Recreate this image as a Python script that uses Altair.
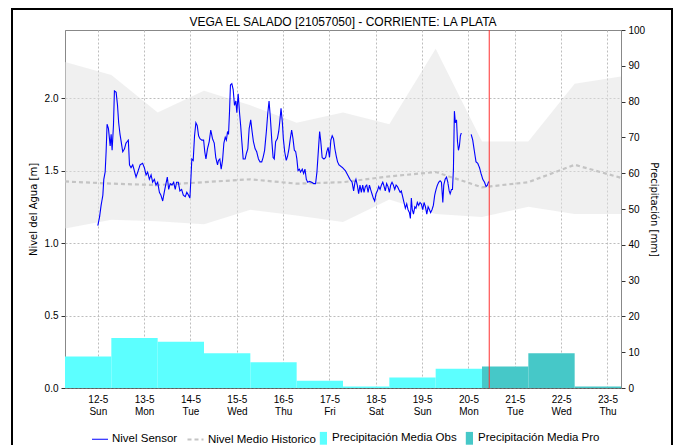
import altair as alt
import pandas as pd

FONT = "Liberation Sans"
TITLE = "VEGA EL SALADO [21057050] - CORRIENTE: LA PLATA"

# Sensor readings: (hours after 12-5 00:00, level in m); the record has a gap on 20-5
sensor_part1 = [
    (0.0, 1.12), (0.9, 1.18), (1.7, 1.26), (2.6, 1.33), (3.1, 1.44), (3.8, 1.49), (4.3, 1.63),
    (4.8, 1.82), (5.5, 1.79), (6.4, 1.67), (6.9, 1.75), (7.4, 1.64), (8.1, 1.81), (8.6, 2.05),
    (9.5, 2.04), (10.2, 1.95), (10.8, 1.83), (11.5, 1.75), (12.1, 1.70), (12.9, 1.63), (13.8, 1.65),
    (14.6, 1.69), (15.8, 1.71), (16.4, 1.54), (17.2, 1.52), (18.1, 1.54), (18.9, 1.50), (19.8, 1.455),
    (20.7, 1.49), (21.9, 1.54), (23.2, 1.55),
    (24.1, 1.52), (25.0, 1.47), (25.8, 1.49), (26.7, 1.44), (27.6, 1.47), (28.4, 1.42), (29.3, 1.44),
    (30.1, 1.40), (31.0, 1.42), (31.9, 1.35), (32.7, 1.33), (33.6, 1.29), (34.4, 1.35), (35.3, 1.41),
    (36.0, 1.455), (36.7, 1.37), (37.5, 1.41), (38.4, 1.40), (39.3, 1.42), (40.1, 1.37), (40.8, 1.42),
    (41.7, 1.42), (42.5, 1.36), (43.4, 1.37), (44.3, 1.33), (45.3, 1.32), (46.1, 1.35), (47.0, 1.33),
    (47.7, 1.31),
    (48.2, 1.44), (48.7, 1.58), (49.4, 1.57), (50.1, 1.74), (50.8, 1.83), (51.5, 1.81), (52.2, 1.74),
    (52.9, 1.72), (53.9, 1.71), (54.8, 1.71), (55.4, 1.63), (56.0, 1.58), (56.8, 1.65), (57.7, 1.70),
    (58.5, 1.78), (59.4, 1.72), (60.3, 1.69), (61.1, 1.59), (62.0, 1.54), (62.5, 1.57), (63.2, 1.58),
    (63.9, 1.51), (64.6, 1.57), (65.3, 1.69), (66.0, 1.73), (66.6, 1.71), (67.2, 1.77), (67.7, 1.75),
    (68.2, 1.90), (68.7, 2.09), (69.4, 2.10), (70.1, 2.06), (70.8, 1.95), (71.5, 1.98),
    (72.0, 1.90), (72.7, 2.03), (73.4, 1.90), (74.0, 1.81), (74.6, 1.70), (75.3, 1.58), (76.3, 1.58),
    (77.0, 1.62), (77.7, 1.65), (78.4, 1.79), (79.2, 1.85), (79.9, 1.77), (80.6, 1.70), (81.5, 1.65),
    (82.3, 1.63), (83.2, 1.58), (84.0, 1.56), (84.9, 1.56), (85.6, 1.59), (86.4, 1.64), (87.3, 1.77),
    (88.0, 1.89), (88.7, 1.98), (89.4, 1.86), (90.1, 1.71), (90.8, 1.59), (91.4, 1.58), (92.1, 1.70),
    (93.0, 1.72), (93.7, 1.77), (94.2, 1.83), (94.9, 1.93), (95.6, 1.83),
    (96.1, 1.72), (96.8, 1.63), (97.6, 1.57), (98.3, 1.60), (99.0, 1.65), (99.7, 1.72), (100.4, 1.78),
    (101.1, 1.72), (101.8, 1.64), (102.5, 1.63), (103.1, 1.58), (103.7, 1.50), (104.4, 1.51),
    (105.0, 1.49), (105.9, 1.51), (106.6, 1.48), (107.3, 1.51), (108.0, 1.44), (108.7, 1.42),
    (109.7, 1.425), (110.7, 1.42), (111.8, 1.41), (112.8, 1.41), (113.5, 1.49), (114.2, 1.63),
    (114.9, 1.77), (115.5, 1.70), (116.2, 1.59), (117.1, 1.58), (118.0, 1.59), (118.6, 1.63),
    (119.3, 1.66),
    (120.0, 1.59), (120.7, 1.71), (121.4, 1.74), (122.1, 1.72), (122.8, 1.65), (123.5, 1.60),
    (124.2, 1.56), (124.9, 1.54), (126.8, 1.52), (128.2, 1.50), (129.4, 1.47), (130.6, 1.44),
    (131.7, 1.42), (132.5, 1.36), (133.2, 1.42), (133.7, 1.44), (134.4, 1.40), (135.1, 1.34),
    (135.8, 1.40), (136.5, 1.35), (137.2, 1.40), (137.9, 1.35), (138.6, 1.39), (139.3, 1.40),
    (140.0, 1.35), (140.7, 1.40), (141.3, 1.37), (142.0, 1.34), (142.7, 1.31), (143.4, 1.29),
    (144.1, 1.34), (144.8, 1.36), (145.5, 1.39), (146.2, 1.37), (146.9, 1.40), (147.6, 1.42),
    (148.3, 1.39), (148.9, 1.36), (149.6, 1.41), (150.3, 1.39), (151.0, 1.35), (151.7, 1.40),
    (152.4, 1.42), (153.1, 1.40), (153.8, 1.37), (154.5, 1.40), (155.2, 1.39), (155.9, 1.37),
    (156.6, 1.35), (157.2, 1.36), (157.9, 1.32), (158.6, 1.28), (159.3, 1.24), (160.0, 1.27),
    (160.7, 1.23), (161.4, 1.21), (161.9, 1.17), (162.4, 1.31), (162.9, 1.23), (163.5, 1.20),
    (164.2, 1.25), (164.8, 1.24), (165.5, 1.28), (166.2, 1.26), (166.9, 1.28), (167.6, 1.27),
    (168.3, 1.23), (169.0, 1.28), (169.7, 1.25), (170.4, 1.20), (171.1, 1.25), (171.8, 1.23),
    (172.4, 1.21), (173.1, 1.23), (173.8, 1.26), (174.5, 1.33), (175.2, 1.37), (175.9, 1.40),
    (176.6, 1.42), (177.3, 1.43), (178.0, 1.42), (178.7, 1.28), (179.2, 1.40), (179.9, 1.44),
    (180.6, 1.455), (181.3, 1.42), (182.0, 1.36), (182.5, 1.34), (183.2, 1.37), (183.7, 1.37),
    (184.2, 1.51), (184.7, 1.91), (185.2, 1.83), (185.8, 1.85), (186.3, 1.70), (186.8, 1.64),
    (187.3, 1.67), (187.8, 1.74), (188.3, 1.76),
]
sensor_part2 = [
    (193.4, 1.75), (194.2, 1.71), (195.1, 1.63), (195.9, 1.56), (196.8, 1.55), (197.7, 1.52),
    (198.5, 1.48), (199.4, 1.44), (200.3, 1.42), (201.1, 1.39), (201.8, 1.40), (202.5, 1.425),
]

# Historic level statistics, one value per day at 07:00
hist_times = [f"2019-05-{d:02d}T07:00:00" for d in
              [11, 12, 13, 14, 15, 16, 17, 18, 19, 20, 21, 22, 23]]
hist_upper = [2.25, 2.16, 1.90, 2.05, 1.95, 1.83, 1.90, 1.82, 2.34, 1.70, 1.70, 2.10, 2.15]
hist_lower = [1.10, 1.16, 1.15, 1.13, 1.23, 1.19, 1.145, 1.30, 1.20, 1.18, 1.25, 1.20, 1.20]
hist_mean = [1.425, 1.41, 1.40, 1.42, 1.44, 1.41, 1.42, 1.46, 1.49, 1.385, 1.42, 1.54, 1.45]

# Daily precipitation (mm), 07:00 to 07:00
precip_start = [f"2019-05-{d:02d}T07:00:00" for d in [11, 12, 13, 14, 15, 16, 17, 18, 19, 20, 21, 22]]
precip_end = [f"2019-05-{d:02d}T07:00:00" for d in [12, 13, 14, 15, 16, 17, 18, 19, 20, 21, 22, 23]]
precip_mm = [8.8, 14.0, 12.9, 9.7, 7.2, 2.0, 0.4, 2.9, 5.4, 6.0, 9.7, 0.4]
precip_kind = ["Precipitación Media Obs"] * 9 + ["Precipitación Media Pro"] * 3

now_time = "2019-05-20T10:45:00"
tick_days = [12, 13, 14, 15, 16, 17, 18, 19, 20, 21, 22, 23]
level_ticks = [0.0, 0.5, 1.0, 1.5, 2.0]
precip_ticks = [0, 10, 20, 30, 40, 50, 60, 70, 80, 90, 100]

line_names = ["Nivel Sensor", "Nivel Medio Historico"]
bar_names = ["Precipitación Media Obs", "Precipitación Media Pro"]

# ---- tables
base = pd.Timestamp("2019-05-12 00:00")


def to_iso(hours):
    return [(base + pd.to_timedelta(h, unit="h")).strftime("%Y-%m-%dT%H:%M:%S") for h in hours]


rows = []
for grp, part in [("a", sensor_part1), ("b", sensor_part2)]:
    ts = to_iso([p[0] for p in part])
    for t, p in zip(ts, part):
        rows.append({"t": t, "v": p[1], "serie": "Nivel Sensor", "grp": grp})
for t, v in zip(hist_times, hist_mean):
    rows.append({"t": t, "v": v, "serie": "Nivel Medio Historico", "grp": "m"})
line_df = pd.DataFrame(rows)

band_df = pd.DataFrame({"t": hist_times, "hi": hist_upper, "lo": hist_lower})
bar_df = pd.DataFrame({"t0": precip_start, "t1": precip_end, "mm": precip_mm, "serie": precip_kind})
now_df = pd.DataFrame({"t": [now_time]})

# ---- scales & axes
x_scale = alt.Scale(domain=[alt.DateTime(year=2019, month=5, date=11, hours=7),
                            alt.DateTime(year=2019, month=5, date=23, hours=7)])
x_axis = alt.Axis(
    values=[alt.DateTime(year=2019, month=5, date=d) for d in tick_days],
    labelExpr="[timeFormat(datum.value, '%-d-%-m'), timeFormat(datum.value, '%a')]",
    title=None, grid=True, gridColor="#BDBDBD", gridDash=[2, 2], ticks=False,
    labelFont=FONT, labelFontSize=10, labelColor="black", labelLineHeight=12,
    labelPadding=6, labelAngle=0, domainColor="#333333", domainDash=[1, 1],
)
yl_scale = alt.Scale(domain=[0, 2.47], nice=False, zero=True)
yl_axis = alt.Axis(
    orient="left", values=level_ticks, format=".1f", title="Nivel del Agua [m]",
    grid=True, gridColor="#BDBDBD", gridDash=[2, 2], tickSize=4, tickColor="#333333",
    domainColor="#888888", labelFont=FONT, labelFontSize=10, labelColor="black",
    labelPadding=3, titleFont="DejaVu Sans", titleFontSize=10, titleFontWeight="normal",
    titleColor="black", titlePadding=6,
)
yr_scale = alt.Scale(domain=[0, 100], nice=False, zero=True)
yr_axis = alt.Axis(
    orient="right", values=precip_ticks, title="Precipitación [mm]", grid=False,
    tickSize=4, tickColor="#333333", domainColor="#888888", labelFont=FONT,
    labelFontSize=10, labelColor="black", labelPadding=3, titleFont="DejaVu Sans",
    titleFontSize=10, titleFontWeight="normal", titleColor="black", titlePadding=4,
)

legend_lines = alt.Legend(
    orient="none", legendX=26, legendY=400, direction="horizontal", title=None,
    symbolType="stroke", symbolSize=256, symbolStrokeWidth=1.5, labelFont=FONT,
    labelFontSize=11.5, labelColor="black", labelOffset=3, columnPadding=5,
)
legend_bars = alt.Legend(
    orient="none", legendX=246, legendY=400, direction="horizontal", title=None,
    symbolType="M0.1,-0.8H1V0.8H0.1Z", symbolSize=256, symbolStrokeWidth=0,
    labelFont=FONT, labelFontSize=11.5, labelColor="black", labelOffset=5, columnPadding=-4,
)

color_enc = alt.Color("serie:N", scale=alt.Scale(domain=line_names, range=["#0000FF", "#C4C4C4"]),
                      legend=legend_lines)
dash_enc = alt.StrokeDash("serie:N", scale=alt.Scale(domain=line_names, range=[[1, 0], [4, 3]]),
                          legend=legend_lines)
width_enc = alt.StrokeWidth("serie:N", scale=alt.Scale(domain=line_names, range=[1.1, 2.2]),
                            legend=None)

band = alt.Chart(band_df).mark_area(color="#E1E1E1", opacity=0.5).encode(
    x=alt.X("t:T", scale=x_scale, axis=x_axis),
    y=alt.Y("hi:Q", scale=yl_scale, axis=yl_axis),
    y2="lo:Q",
)
mean_line = alt.Chart(line_df).transform_filter(alt.datum.grp == "m").mark_line().encode(
    x=alt.X("t:T", scale=x_scale, axis=x_axis),
    y=alt.Y("v:Q", scale=yl_scale, axis=yl_axis),
    color=color_enc, strokeDash=dash_enc, strokeWidth=width_enc, detail="grp:N",
)
sensor_line = alt.Chart(line_df).transform_filter(alt.datum.grp != "m").mark_line().encode(
    x=alt.X("t:T", scale=x_scale, axis=x_axis),
    y=alt.Y("v:Q", scale=yl_scale, axis=yl_axis),
    color=color_enc, strokeDash=dash_enc, strokeWidth=width_enc, detail="grp:N",
)

bars = alt.Chart(bar_df).mark_bar().encode(
    x=alt.X("t0:T", scale=x_scale, axis=x_axis),
    x2="t1:T",
    y=alt.Y("mm:Q", scale=yr_scale, axis=yr_axis),
    y2=alt.datum(0),
    fill=alt.Fill("serie:N", scale=alt.Scale(domain=bar_names, range=["#5CFFFF", "#46C8C8"]),
                  legend=legend_bars),
)
now_rule = alt.Chart(now_df).mark_rule(color="#FF3030", stroke="#FF3030", strokeWidth=1,
                                       strokeOpacity=1).encode(
    x=alt.X("t:T", scale=x_scale, axis=x_axis),
)
frame = alt.Chart(alt.Data(values=[{}])).mark_rect(
    filled=False, stroke="black", strokeWidth=2
).encode(
    x=alt.value(-53), x2=alt.value(607), y=alt.value(-21), y2=alt.value(460)
)

left = alt.layer(band, mean_line, sensor_line)
right = alt.layer(bars, now_rule, frame)

chart = alt.layer(left, right).resolve_scale(y="independent").properties(
    width=556, height=358,
    title=alt.TitleParams(TITLE, fontSize=12, font=FONT, fontWeight="normal", color="black",
                          anchor="middle", offset=4, dy=25, frame="group"),
    autosize=alt.AutoSizeParams(type="none"),
    padding={"left": 57, "top": 22, "right": 52, "bottom": 59},
).configure(font=FONT).configure_view(stroke="#888888")

chart.save("out.html", embed_options={"renderer": "svg", "actions": False})
